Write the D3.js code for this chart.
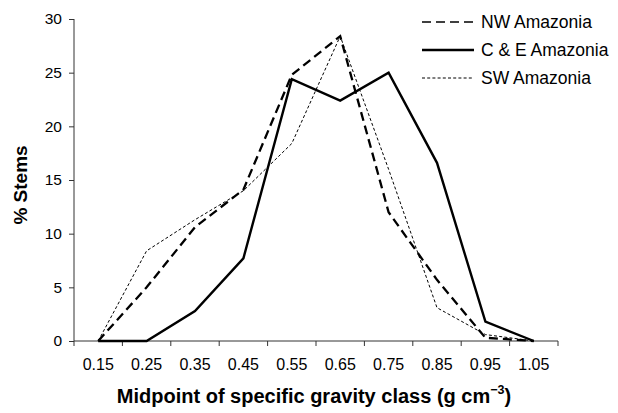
<!DOCTYPE html>
<html>
<head>
<meta charset="utf-8">
<script src="https://cdn.jsdelivr.net/npm/d3@7/dist/d3.min.js"></script>
<style>
  html, body { margin: 0; padding: 0; background: #fff; }
  svg { display: block; font-family: "Liberation Sans", Arial, Helvetica, sans-serif; }
</style>
</head>
<body>
<svg id="chart" width="618" height="413"></svg>
<script>
// ---- data ----
const categories = ["0.15", "0.25", "0.35", "0.45", "0.55", "0.65", "0.75", "0.85", "0.95", "1.05"];
const nwValues   = [0, 5.0, 10.6, 14.1, 24.8, 28.4, 12.0, 5.7, 0.3, 0];
const ceValues   = [0, 0, 2.8, 7.7, 24.4, 22.4, 25.0, 16.6, 1.8, 0];
const swValues   = [0, 8.4, 11.3, 14.0, 18.4, 28.4, 16.0, 3.1, 0.6, 0];
const seriesNames = ["NW Amazonia", "C & E Amazonia", "SW Amazonia"];
const yTicks = [0, 5, 10, 15, 20, 25, 30];

// ---- layout ----
const svg = d3.select("#chart");
const plotLeft = 74, plotRight = 558, plotTop = 19, plotBottom = 341;
const axisColor = "#333";

const x = d3.scaleBand().domain(categories).range([plotLeft, plotRight]).padding(0);
const y = d3.scaleLinear().domain([0, 30]).range([plotBottom, plotTop]);
const cx = c => x(c) + x.bandwidth() / 2;

const styles = [
  { width: 2.3, dash: "9,5", legendWidth: 1.4 },
  { width: 2.4, dash: null, legendWidth: 2.4 },
  { width: 1, dash: "3,2.2", legendWidth: 1 }
];
const seriesData = [nwValues, ceValues, swValues];

// ---- axes ----
const yAxis = d3.axisLeft(y).tickValues(yTicks).tickSize(5).tickPadding(7);
const gy = svg.append("g").attr("transform", `translate(${plotLeft},0)`).call(yAxis);
gy.select(".domain").attr("stroke", axisColor).attr("d", `M0,${plotTop}V${plotBottom}`);
gy.selectAll(".tick line").attr("stroke", axisColor);
gy.selectAll(".tick text").attr("font-size", 15.5).attr("fill", "#000")
  .attr("font-family", "'Liberation Sans', Arial, sans-serif");

const xAxis = d3.axisBottom(x).tickSize(0).tickPadding(18);
const gx = svg.append("g").attr("transform", `translate(0,${plotBottom})`).call(xAxis);
gx.select(".domain").attr("stroke", axisColor).attr("d", `M${plotLeft},0H${plotRight}`);
gx.selectAll(".tick text").attr("font-size", 16).attr("fill", "#000")
  .attr("font-family", "'Liberation Sans', Arial, sans-serif");
const boundaries = categories.map(c => x(c)).concat([x(categories[categories.length - 1]) + x.bandwidth()]);
gx.selectAll("line.bound").data(boundaries).enter().append("line")
  .attr("class", "bound")
  .attr("x1", d => d).attr("x2", d => d)
  .attr("y1", 0).attr("y2", 5)
  .attr("stroke", axisColor);

// ---- lines ----
const line = d3.line().x((d, i) => cx(categories[i])).y(d => y(d));
seriesData.forEach((vals, k) => {
  svg.append("path")
    .datum(vals)
    .attr("d", line)
    .attr("fill", "none")
    .attr("stroke", "#000")
    .attr("stroke-width", styles[k].width)
    .attr("stroke-dasharray", styles[k].dash)
    .attr("stroke-linejoin", "miter");
});

// ---- legend ----
const lg = svg.append("g");
seriesNames.forEach((name, k) => {
  const ly = 22 + k * 28;
  lg.append("line")
    .attr("x1", 422).attr("x2", 474).attr("y1", ly).attr("y2", ly)
    .attr("stroke", "#000")
    .attr("stroke-width", styles[k].legendWidth)
    .attr("stroke-dasharray", styles[k].dash);
  lg.append("text")
    .attr("x", 481).attr("y", ly)
    .attr("dy", "0.35em")
    .attr("font-size", 17.5)
    .text(name);
});

// ---- titles ----
svg.append("text")
  .attr("transform", `translate(27,185) rotate(-90)`)
  .attr("text-anchor", "middle")
  .attr("font-size", 19)
  .attr("font-weight", "bold")
  .text("% Stems");

const xt = svg.append("text")
  .attr("x", 314).attr("y", 403)
  .attr("text-anchor", "middle")
  .attr("font-size", 20)
  .attr("font-weight", "bold");
xt.append("tspan").text("Midpoint of specific gravity class (g cm");
xt.append("tspan").attr("font-size", 12.5).attr("dy", -9).text("\u22123");
xt.append("tspan").attr("dy", 9).text(")");
</script>
</body>
</html>
